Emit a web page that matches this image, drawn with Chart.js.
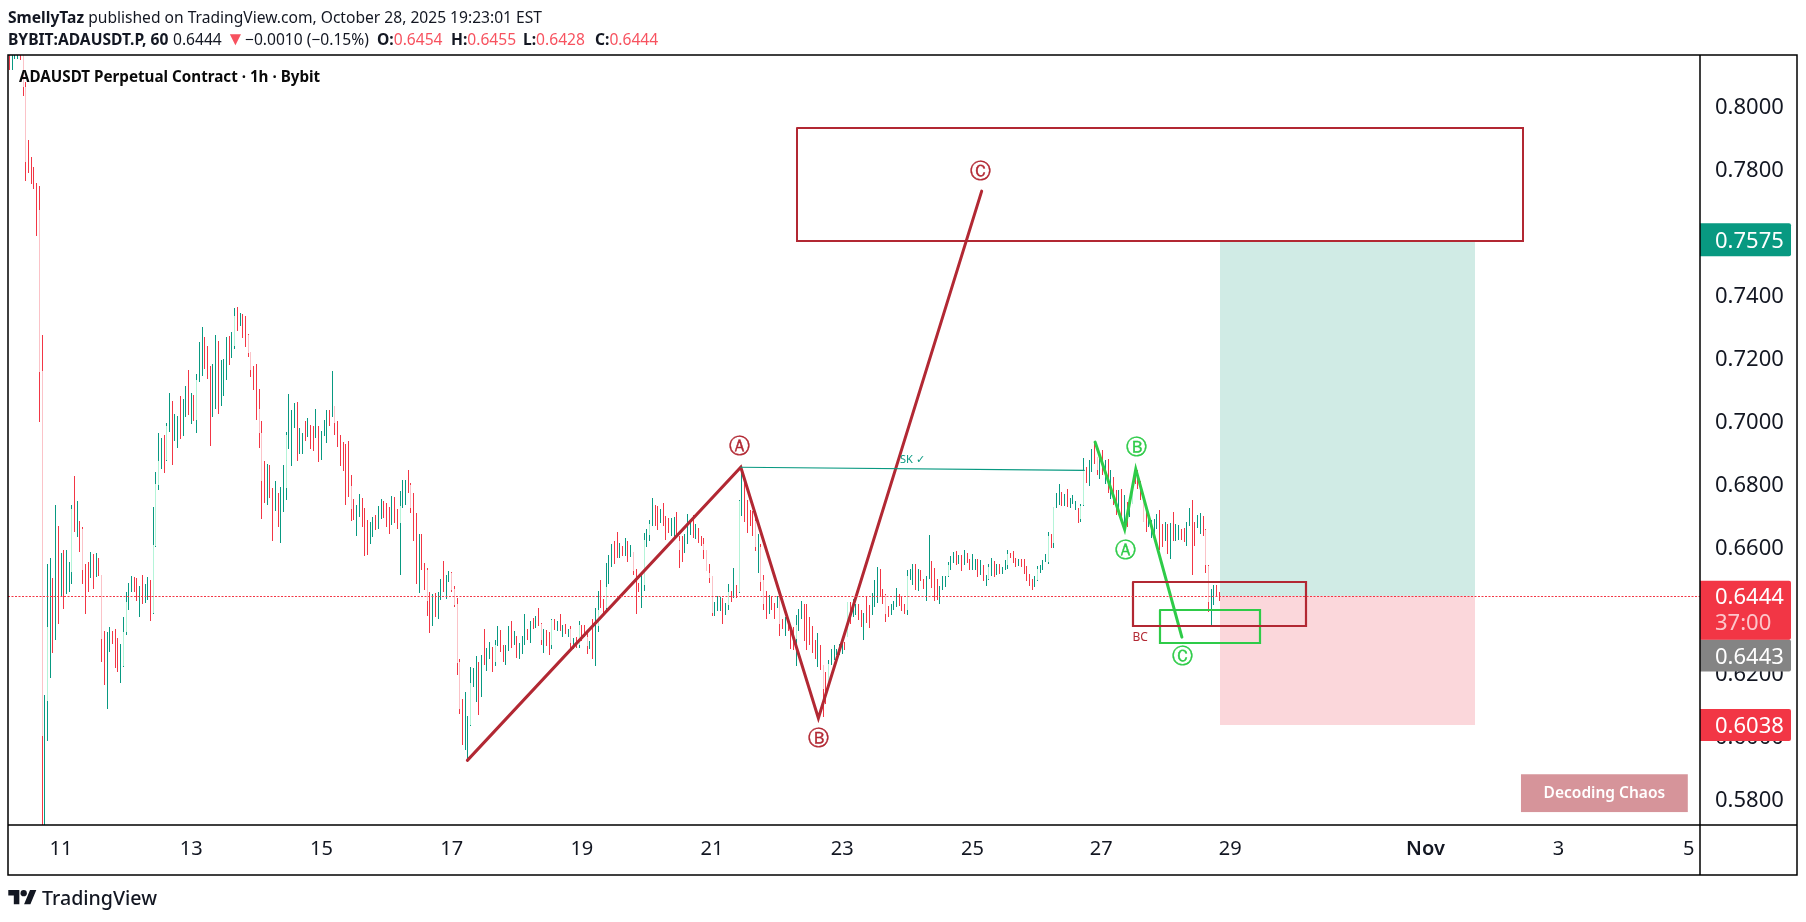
<!DOCTYPE html>
<html><head><meta charset="utf-8"><title>ADAUSDT</title>
<script src="https://cdn.jsdelivr.net/npm/chart.js@4/dist/chart.umd.js"></script>
<style>
html,body{margin:0;padding:0;background:#fff;width:1806px;height:922px;overflow:hidden}
canvas{position:absolute;left:0;top:0}
.t{position:absolute;white-space:nowrap;font-family:"Noto Sans",sans-serif;color:#131722;line-height:20px}
.t b{font-weight:700}.r{color:#f7525f}
#logo{position:absolute;left:8px;top:890px}
</style></head><body>
<canvas id="c" width="1806" height="922"></canvas>
<div class="t" style="left:8px;top:7px;font-size:15.6px"><b>SmellyTaz</b> published on TradingView.com, October 28, 2025 19:23:01 EST</div>
<div class="t" style="left:8px;top:29px;font-size:15.6px"><b>BYBIT:ADAUSDT.P, 60</b></div>
<div class="t" style="left:173px;top:29px;font-size:15.6px">0.6444</div>
<div class="t r" style="left:226px;top:28px;font-size:19px;color:#f7525f">▼</div>
<div class="t" style="left:245px;top:29px;font-size:15.6px">−0.0010 (−0.15%)</div>
<div class="t" style="left:377px;top:29px;font-size:15.6px"><b>O:</b><span class="r">0.6454</span></div>
<div class="t" style="left:451px;top:29px;font-size:15.6px"><b>H:</b><span class="r">0.6455</span></div>
<div class="t" style="left:523px;top:29px;font-size:15.6px"><b>L:</b><span class="r">0.6428</span></div>
<div class="t" style="left:595px;top:29px;font-size:15.6px"><b>C:</b><span class="r">0.6444</span></div>
<div class="t" style="left:19px;top:66px;font-size:15.2px;font-weight:700;color:#0a0a0a">ADAUSDT Perpetual Contract · 1h · Bybit</div>
<svg id="logo" width="29" height="15" viewBox="0 0 36 19"><path fill="#131722" d="M14 18H7V7H0V0h14zM28 18h-8l7.5-18h8z"/><circle fill="#131722" cx="19.5" cy="4" r="4"/></svg>
<div class="t" style="left:42px;top:888px;font-size:19.6px;font-weight:500;color:#131722">TradingView</div>
<script>
// hourly candles; hour 0 is the "11" tick (Oct 11 00:00)
const firstHour = -19;
const highs = [
.8180,.8180,.8180,.8180,.8180,.8180,.8076,.7891,.7838,.7806,
.7755,.7745,.7272,.6129,.6545,.6564,.6502,.6732,.6666,.6581,
.6589,.6589,.6552,.6732,.6824,.6745,.6682,.6662,.6545,.6552,
.6583,.6577,.6580,.6565,.6510,.6332,.6329,.6345,.6332,.6339,
.6310,.6291,.6377,.6456,.6485,.6507,.6504,.6501,.6475,.6510,
.6482,.6504,.6494,.6726,.6837,.6961,.6945,.6955,.6993,.7088,
.7062,.7021,.7015,.7078,.7069,.7110,.7161,.7088,.7081,.7148,
.7250,.7297,.7266,.7237,.7174,.7180,.7272,.7253,.7193,.7196,
.7266,.7269,.7281,.7358,.7361,.7342,.7339,.7332,.7275,.7218,
.7174,.7180,.7100,.6999,.6872,.6862,.6859,.6786,.6808,.6770,
.6789,.6859,.6964,.7085,.7034,.7056,.7059,.6977,.6961,.6999,
.7009,.6986,.6983,.7037,.6983,.6967,.7002,.7034,.7034,.7158,
.7047,.6999,.6955,.6932,.6926,.6936,.6828,.6752,.6733,.6767,
.6755,.6723,.6685,.6679,.6694,.6701,.6729,.6752,.6745,.6739,
.6726,.6761,.6758,.6720,.6777,.6812,.6812,.6844,.6802,.6771,
.6707,.6640,.6640,.6548,.6533,.6456,.6450,.6453,.6456,.6498,
.6555,.6510,.6523,.6520,.6475,.6437,.6244,.6117,.6139,.6063,
.6218,.6215,.6253,.6234,.6256,.6339,.6279,.6298,.6282,.6304,
.6348,.6336,.6288,.6288,.6348,.6364,.6333,.6317,.6294,.6317,
.6387,.6339,.6364,.6374,.6380,.6406,.6358,.6339,.6336,.6329,
.6370,.6370,.6364,.6389,.6354,.6357,.6341,.6348,.6310,.6313,
.6364,.6351,.6354,.6326,.6303,.6373,.6405,.6459,.6494,.6434,
.6548,.6576,.6611,.6618,.6649,.6614,.6602,.6627,.6618,.6605,
.6583,.6529,.6487,.6510,.6646,.6656,.6687,.6754,.6732,.6729,
.6722,.6741,.6697,.6691,.6691,.6694,.6710,.6634,.6634,.6640,
.6706,.6678,.6703,.6672,.6659,.6634,.6627,.6592,.6545,.6507,
.6427,.6446,.6440,.6437,.6421,.6484,.6459,.6532,.6478,.6748,
.6855,.6812,.6748,.6716,.6713,.6705,.6640,.6608,.6510,.6462,
.6449,.6443,.6421,.6443,.6443,.6373,.6379,.6373,.6335,.6346,
.6383,.6402,.6430,.6418,.6418,.6377,.6348,.6306,.6326,.6288,
.6225,.6203,.6243,.6275,.6288,.6277,.6293,.6314,.6298,.6424,
.6424,.6434,.6420,.6420,.6399,.6392,.6444,.6415,.6455,.6494,
.6536,.6529,.6468,.6452,.6412,.6418,.6428,.6469,.6452,.6444,
.6420,.6526,.6529,.6545,.6545,.6529,.6526,.6500,.6507,.6637,
.6555,.6532,.6498,.6475,.6507,.6507,.6553,.6571,.6583,.6586,
.6574,.6574,.6590,.6580,.6563,.6577,.6563,.6563,.6558,.6542,
.6510,.6545,.6566,.6555,.6545,.6545,.6536,.6558,.6590,.6580,
.6586,.6566,.6561,.6561,.6561,.6539,.6513,.6497,.6507,.6539,
.6542,.6558,.6579,.6647,.6640,.6728,.6770,.6799,.6773,.6767,
.6783,.6754,.6764,.6745,.6725,.6738,.6881,.6853,.6875,.6910,
.6933,.6886,.6896,.6907,.6875,.6880,.6843,.6822,.6780,.6780,
.6783,.6764,.6743,.6753,.6796,.6849,.6843,.6808,.6743,.6725,
.6706,.6687,.6689,.6704,.6716,.6672,.6679,.6672,.6676,.6710,
.6672,.6669,.6658,.6661,.6680,.6725,.6750,.6679,.6702,.6709,
.6697,.6658,.6544,.6466,.6481,.6478,.6456];
const lows = [
.8113,.8113,.8147,.8148,.8145,.8031,.7761,.7788,.7752,.7736,
.7586,.6997,.5650,.5650,.5983,.6184,.6264,.6304,.6356,.6443,
.6402,.6451,.6456,.6482,.6647,.6631,.6584,.6482,.6389,.6456,
.6501,.6466,.6504,.6507,.6234,.6161,.6085,.6266,.6291,.6215,
.6202,.6170,.6218,.6320,.6399,.6456,.6456,.6428,.6377,.6418,
.6421,.6431,.6364,.6386,.6599,.6780,.6847,.6834,.6872,.6964,
.6859,.6935,.6913,.6942,.6951,.7012,.7018,.6989,.6999,.6961,
.7123,.7142,.7164,.7132,.6920,.7012,.7037,.7021,.7047,.7078,
.7129,.7177,.7199,.7227,.7285,.7300,.7262,.7234,.7202,.7139,
.7097,.7002,.6913,.6688,.6739,.6732,.6755,.6618,.6713,.6662,
.6612,.6710,.6748,.6910,.6856,.6977,.6872,.6894,.6894,.6936,
.6948,.6910,.6904,.6945,.6869,.6875,.6952,.6929,.6983,.7012,
.6955,.6917,.6856,.6840,.6733,.6758,.6682,.6685,.6634,.6694,
.6663,.6571,.6574,.6609,.6631,.6653,.6656,.6688,.6691,.6663,
.6640,.6669,.6675,.6656,.6510,.6723,.6733,.6771,.6707,.6618,
.6482,.6453,.6526,.6463,.6380,.6326,.6348,.6377,.6371,.6431,
.6456,.6434,.6488,.6456,.6409,.6193,.6069,.5971,.5955,.5923,
.6031,.6155,.6107,.6066,.6123,.6225,.6206,.6244,.6202,.6221,
.6285,.6266,.6234,.6225,.6269,.6279,.6288,.6247,.6244,.6260,
.6288,.6304,.6294,.6339,.6342,.6348,.6288,.6263,.6285,.6256,
.6275,.6338,.6335,.6335,.6313,.6323,.6316,.6281,.6275,.6281,
.6278,.6303,.6313,.6262,.6275,.6246,.6221,.6329,.6405,.6380,
.6392,.6484,.6538,.6545,.6564,.6564,.6570,.6573,.6554,.6567,
.6510,.6389,.6456,.6408,.6459,.6599,.6618,.6668,.6668,.6653,
.6675,.6668,.6621,.6646,.6634,.6627,.6630,.6532,.6551,.6580,
.6611,.6637,.6627,.6624,.6614,.6602,.6561,.6523,.6487,.6380,
.6380,.6396,.6396,.6357,.6383,.6399,.6424,.6437,.6437,.6453,
.6697,.6678,.6646,.6668,.6634,.6586,.6519,.6462,.6399,.6370,
.6386,.6399,.6370,.6408,.6319,.6341,.6319,.6335,.6275,.6272,
.6221,.6335,.6370,.6303,.6272,.6288,.6264,.6246,.6219,.6209,
.6061,.6103,.6150,.6225,.6243,.6256,.6256,.6260,.6272,.6314,
.6357,.6378,.6383,.6367,.6346,.6304,.6359,.6343,.6383,.6410,
.6423,.6441,.6420,.6362,.6378,.6383,.6399,.6410,.6413,.6397,
.6386,.6383,.6494,.6478,.6463,.6459,.6491,.6468,.6429,.6498,
.6470,.6429,.6433,.6418,.6463,.6472,.6504,.6526,.6548,.6542,
.6545,.6523,.6542,.6548,.6526,.6526,.6526,.6504,.6510,.6491,
.6475,.6494,.6507,.6504,.6510,.6513,.6513,.6528,.6531,.6564,
.6548,.6536,.6539,.6536,.6513,.6491,.6475,.6463,.6472,.6491,
.6517,.6526,.6552,.6547,.6598,.6596,.6724,.6732,.6729,.6729,
.6726,.6723,.6737,.6716,.6675,.6680,.6729,.6802,.6792,.6837,
.6864,.6827,.6817,.6827,.6801,.6771,.6753,.6732,.6700,.6724,
.6679,.6656,.6663,.6695,.6737,.6801,.6785,.6748,.6679,.6648,
.6663,.6630,.6621,.6658,.6589,.6600,.6619,.6577,.6562,.6619,
.6619,.6621,.6623,.6616,.6602,.6666,.6510,.6602,.6661,.6642,
.6634,.6517,.6394,.6351,.6415,.6443,.6428];
const directions = [
"duuudddddd","ddduuududu","duuududddd","ududdduudd","duuuuuddud",
"uuduuuuduu","duuduududu","uuddduuduu","uduududddd","ddddduddud",
"uuuuuuduud","udduduuudu","dddddddduu","ddduuduudd","dudduuuddd",
"dudddduduu","duuddddduu","uuududuudu","udduududuu","udududdudd",
"ududududud","uddduduudd","uuuddududu","ddduuuuudd","uddduudddu",
"uududddddd","uuuduududu","uddddduddd","uddudduddd","uuudddddud",
"dduuuuuudu","duuddudduu","udddduuudd","duuududduu","ddduuuuuud",
"ududduudud","uuududuuud","dduddddduu","uuuuduuudu","duuuduuduu",
"ddudududdu","duduuddddd","uuuuddudud","uudduudduu","ddduudd"].join("");
// candles whose body shows in the pale tint: hour, body top, body bottom
const paleHours = [-14,-13,-8,-7,-5,4,8,15,23,24,34,35,36,39,50,64,69,70,73,74,83,101,107,125,129,135,144,145,146,147,151,160,177,181,188,191,194,198,201,211,215,217,228,237,238,239,240,246,250,256,258,259,265,271,281,283,290,304,312,327,342,349,360,364,366,376,377,382,395,399,422,423];
const paleTops = [.8180,.8058,.7669,.7158,.6346,.6720,.6656,.6510,.6329,.6424,.6605,.6799,.6872,.6983,.7129,.7332,.7272,.7218,.7037,.6961,.6955,.7047,.6793,.6729,.6796,.6526,.6517,.6466,.6418,.6234,.6168,.6288,.6355,.6367,.6341,.6351,.6314,.6399,.6472,.6583,.6621,.6672,.6618,.6611,.6592,.6519,.6507,.6456,.6745,.6684,.6600,.6494,.6443,.6354,.6225,.6230,.6424,.6447,.6507,.6542,.6537,.6579,.6531,.6634,.6728,.6729,.6843,.6886,.6796,.6743,.6653,.6541];
const paleBottoms = [.8058,.7822,.7156,.5999,.6110,.6521,.6526,.6307,.6221,.6329,.6390,.6602,.6796,.6875,.7002,.7237,.7215,.7161,.6961,.6808,.6786,.6993,.6720,.6675,.6723,.6428,.6463,.6415,.6231,.6085,.6034,.6234,.6304,.6288,.6297,.6288,.6285,.6348,.6405,.6523,.6481,.6637,.6589,.6589,.6523,.6503,.6392,.6415,.6456,.6600,.6488,.6418,.6356,.6309,.6151,.6166,.6314,.6389,.6399,.6507,.6500,.6542,.6494,.6552,.6613,.6689,.6732,.6843,.6737,.6679,.6542,.6425];

const xTickHours = [0,48,96,144,192,240,288,336,383.5,431,503,552,600];
const xTickLabels = ["11","13","15","17","19","21","23","25","27","29","Nov","3","5"];
const yTicks = [.58,.60,.62,.64,.66,.68,.70,.72,.74,.76,.78,.80];
const xRange = [-19.54,604.2];
const yRange = [.5718,.8161];

const redWaveHours = [149.8,250.6,279.2,339.4];
const redWavePrices = [.5923,.6853,.6057,.7729];
const greenWaveHours = [381.2,392.1,396.2,413.2];
const greenWavePrices = [.6933,.6656,.6847,.6314];
const skHours = [250.6,377.2];
const skPrices = [.6853,.6843];
const lastPrice = .6444;
const targetBox = [271.3,539,.7930,.7570];
const bcBox = [395.1,459,.6488,.6348];
const greenBox = [405.2,442,.6399,.6295];
const zoneHours = [427.3,521.2];
const zoneProfitTop = .7575, zoneStop = .6035;
const brandBox = [538.2,599.7,.5879,.5759];

const RED="#f23645",TEAL="#089981",PALE_R="#fbc3c8",PALE_G="#b4f4d8",WAVE_R="#b22833",WAVE_G="#2ecb48";
const FONT='"Noto Sans",sans-serif';
const rectPts=b=>[[b[0],b[2]],[b[1],b[2]],[b[1],b[3]],[b[0],b[3]],[b[0],b[2]]].map(p=>({x:p[0],y:p[1]}));
const zip=(xs,ys)=>xs.map((x,i)=>({x,y:ys[i]}));
const line=(data,color,width,extra)=>Object.assign({type:"line",data,borderColor:color,borderWidth:width,pointRadius:0,tension:0,order:1,borderCapStyle:"round",borderJoinStyle:"miter"},extra||{});

const upBars=[],downBars=[],paleUp=[],paleDown=[];
highs.forEach((h,i)=>{const p={x:firstHour+i,y:[lows[i],h]};(directions[i]==="u"?upBars:downBars).push(p);});
paleHours.forEach((hr,i)=>{const p={x:hr,y:[paleBottoms[i],paleTops[i]]};(directions[hr-firstHour]==="u"?paleUp:paleDown).push(p);});
const bar=(data,color,order)=>({type:"bar",data,backgroundColor:color,borderWidth:0,barThickness:1,inflateAmount:0,grouped:false,order});

const labels=[
 ["Ⓐ",250,.6917,WAVE_R,21],["Ⓑ",279.4,.5988,WAVE_R,21],["Ⓒ",339,.7787,WAVE_R,21],
 ["Ⓐ",392.5,.6587,WAVE_G,21],["Ⓑ",396.6,.6912,WAVE_G,21],["Ⓒ",413.5,.6249,WAVE_G,21],
 ["BC",397.8,.6314,WAVE_R,12],["SK ✓",313.8,.6875,TEAL,11]];
const priceTags=[
 {y:.7575,text:"0.7575",bg:TEAL,h:33},
 {y:.6035,text:"0.6038",bg:RED,h:32},
 {y:.6256,text:"0.6443",bg:"#848484",h:32},
 {y:.6444,text:"0.6444",bg:RED,h:59,sub:"37:00"}];

const deco={id:"deco",
 afterDatasetsUpdate(c){
  c.data.datasets.forEach((d,i)=>{const m=c.getDatasetMeta(i);
   if(d.type==="bar"){m.data.forEach(el=>{el.x=Math.floor(el.x)+.5;el.y=Math.round(el.y);el.base=Math.round(el.base);if(el.base===el.y)el.base=el.y+1;});}
   else if(d.snap==="box"){m.data.forEach(p=>{p.x=Math.round(p.x);p.y=Math.round(p.y);});}
   else if(d.snap==="hair"){m.data.forEach(p=>{p.y=Math.floor(p.y)+.5;});}
  });},
 beforeDatasetsDraw(c){const {ctx,scales:{x,y}}=c;
  const a=Math.round(x.getPixelForValue(zoneHours[0])),b=Math.round(x.getPixelForValue(zoneHours[1]));
  const t=Math.round(y.getPixelForValue(zoneProfitTop)),m=Math.round(y.getPixelForValue(lastPrice)),s=Math.round(y.getPixelForValue(zoneStop));
  ctx.save();ctx.fillStyle="#d0ebe5";ctx.fillRect(a,t,b-a,m-t);ctx.fillStyle="#fbd7db";ctx.fillRect(a,m,b-a,s-m);ctx.restore();},
 afterDatasetsDraw(c){const {ctx,scales:{x,y}}=c;ctx.save();ctx.textAlign="center";ctx.textBaseline="middle";
  labels.forEach(l=>{const px=x.getPixelForValue(l[1]),py=y.getPixelForValue(l[2]);
   ctx.font=(l[4]>=19?l[4]+'px "DejaVu Sans"':l[4]+"px "+FONT);ctx.fillStyle=l[3];ctx.fillText(l[0],px,py);
   if(l[4]>=19){ctx.strokeStyle=l[3];ctx.lineWidth=.4;ctx.strokeText(l[0],px,py);}});
  const bx=x.getPixelForValue(brandBox[0]),bw=x.getPixelForValue(brandBox[1])-bx,by=y.getPixelForValue(brandBox[2]),bh=y.getPixelForValue(brandBox[3])-by;
  ctx.fillStyle="#d6949a";ctx.fillRect(bx,by,bw,bh);ctx.fillStyle="#fff";ctx.font="600 15.5px "+FONT;ctx.fillText("Decoding Chaos",bx+bw/2,by+bh/2);ctx.restore();},
 afterDraw(c){const {ctx,chartArea:A,scales:{y}}=c;ctx.save();
  ctx.textBaseline="middle";ctx.textAlign="left";
  priceTags.forEach(t=>{const py=y.getPixelForValue(t.y);const top=t.sub?py-15.5:py-t.h/2;
   ctx.fillStyle=t.bg;ctx.beginPath();ctx.roundRect(A.right,top,91,t.h,[0,2,2,0]);ctx.fill();
   ctx.fillStyle="#fff";ctx.font="22px "+FONT;ctx.fillText(t.text,A.right+15,py+2);
   if(t.sub){ctx.fillStyle="#fcc6cb";ctx.fillText(t.sub,A.right+15,py+28);}});
  ctx.strokeStyle="#000";ctx.lineWidth=1.5;
  ctx.strokeRect(A.left,A.top,1797-A.left,875-A.top);
  ctx.beginPath();ctx.moveTo(A.left,A.bottom);ctx.lineTo(1797,A.bottom);ctx.moveTo(A.right,A.top);ctx.lineTo(A.right,875);ctx.stroke();
  ctx.restore();}
};

Chart.defaults.font.family=FONT;
new Chart(document.getElementById("c"),{
 type:"bar",
 data:{datasets:[
  line(rectPts(targetBox),WAVE_R,2,{snap:"box"}),
  line(rectPts(bcBox),WAVE_R,2.2,{snap:"box"}),
  line(rectPts(greenBox),WAVE_G,2.2,{snap:"box"}),
  line(zip(skHours,skPrices),TEAL,1.2),
  line(zip(redWaveHours,redWavePrices),WAVE_R,3),
  line(zip(greenWaveHours,greenWavePrices),WAVE_G,3),
  line(zip(xRange,[lastPrice,lastPrice]),RED,1,{borderDash:[2,1.5],borderCapStyle:"butt",order:0,snap:"hair"}),
  bar(paleUp,PALE_G,2),bar(paleDown,PALE_R,2),
  bar(upBars,TEAL,3),bar(downBars,RED,3)
 ]},
 plugins:[deco],
 options:{responsive:false,animation:false,devicePixelRatio:1,
  layout:{padding:{left:8,top:55,right:9,bottom:47}},
  plugins:{legend:{display:false},tooltip:{enabled:false}},
  scales:{
   x:{type:"linear",offset:false,min:xRange[0],max:xRange[1],grid:{display:false,drawTicks:false},border:{display:false},
    afterBuildTicks:a=>{a.ticks=xTickHours.map(v=>({value:v}));},
    afterFit:a=>{a.height=50;},
    ticks:{autoSkip:false,maxRotation:0,padding:12,color:"#131722",
     font:c=>({size:20,weight:c.tick&&c.tick.value===503?"600":"400"}),
     callback:v=>xTickLabels[xTickHours.indexOf(v)]}},
   y:{type:"linear",position:"right",min:yRange[0],max:yRange[1],grid:{display:false,drawTicks:false},border:{display:false},
    afterBuildTicks:a=>{a.ticks=yTicks.map(v=>({value:v}));},
    afterFit:a=>{a.width=97;},
    ticks:{padding:15,color:"#131722",font:{size:22,lineHeight:"4px"},callback:v=>["",v.toFixed(4)]}}
  }}
});
</script>
</body></html>
